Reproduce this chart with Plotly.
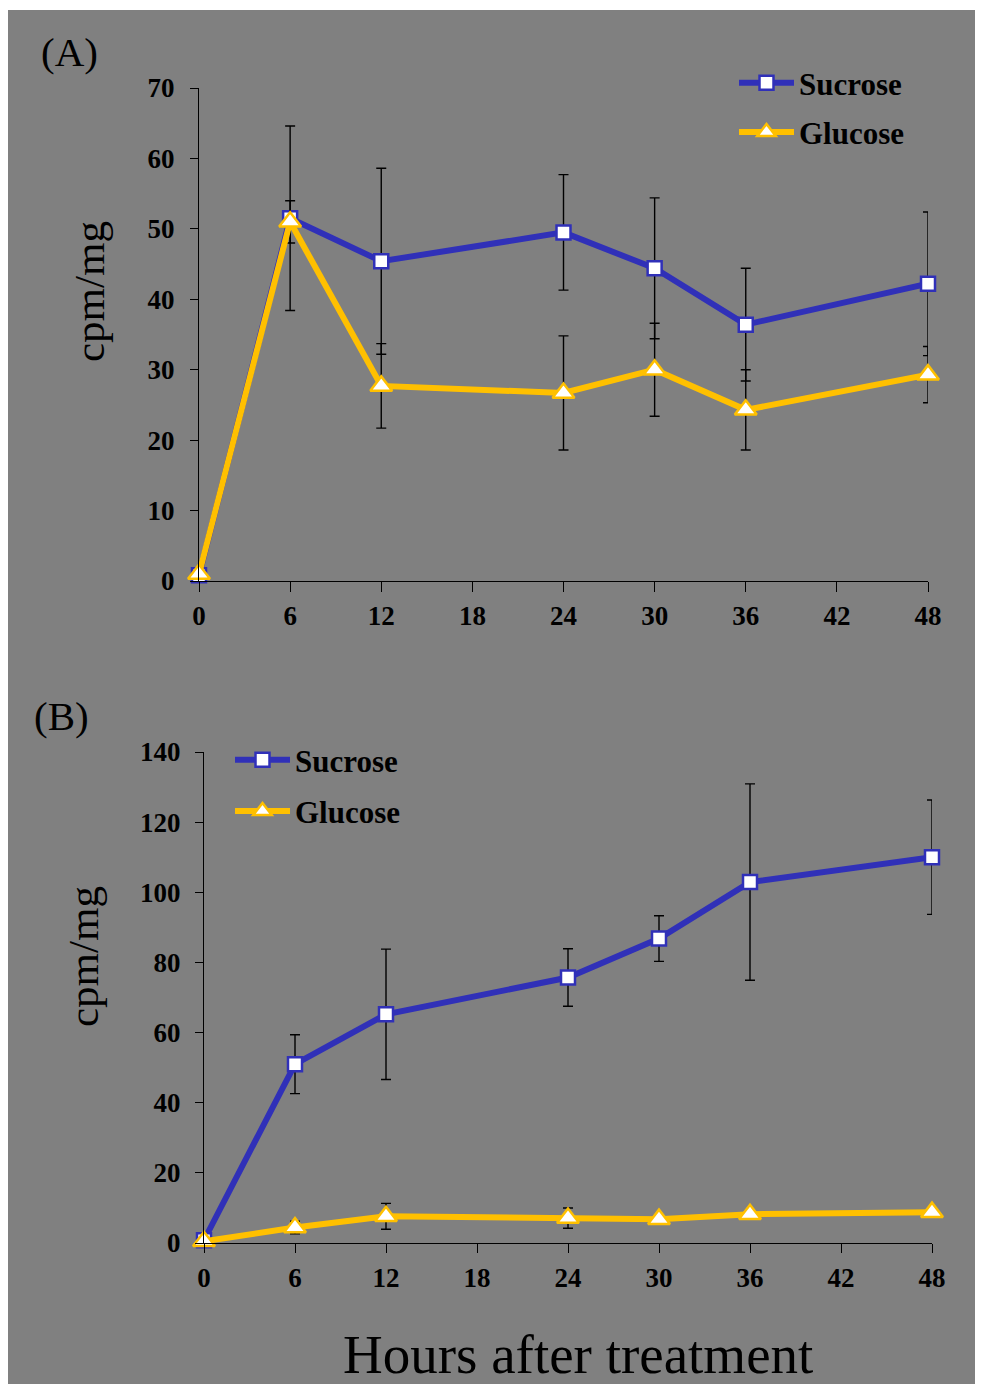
import plotly.graph_objects as go

# ---------------- data ----------------
hours = [0, 6, 12, 24, 30, 36, 48]
x_ticks = [0, 6, 12, 18, 24, 30, 36, 42, 48]

a_sucrose = [0.8, 51.5, 45.4, 49.5, 44.4, 36.4, 42.2]
a_sucrose_err = [0.0, 13.1, 13.2, 8.2, 10.0, 8.0, 10.2]
a_glucose = [1.0, 51.0, 27.7, 26.7, 30.0, 24.3, 29.3]
a_glucose_err = [0.0, 3.0, 6.0, 8.1, 6.6, 5.7, 4.0]

b_sucrose = [0.8, 51.0, 65.2, 75.7, 86.8, 102.9, 110.0]
b_sucrose_err = [0.0, 8.4, 18.6, 8.2, 6.5, 28.0, 16.3]
b_glucose = [0.5, 4.4, 7.6, 7.1, 6.8, 8.2, 8.8]
b_glucose_err = [0.0, 1.8, 3.7, 2.9, 1.0, 1.0, 1.0]

a_yticks = [0, 10, 20, 30, 40, 50, 60, 70]
b_yticks = [0, 20, 40, 60, 80, 100, 120, 140]

# ---------------- style ----------------
# the page body adds an 8px margin, so the figure is 16px smaller than the window
W, H = 967, 1376
OFF = 8  # reference pixel -> figure pixel offset
BG = "#808080"
BLUE = "#3030B8"
GOLD = "#FFC000"
SERIF = "Liberation Serif"


def px_x(p):
    return (p - OFF) / W


def px_y(p):
    return 1 - (p - OFF) / H


fig = go.Figure()


def add_series(xa, ya, y, err, name, color, symbol, size, legend, group):
    fig.add_trace(go.Scatter(
        x=hours, y=y, xaxis=xa, yaxis=ya, name=name, mode="lines+markers",
        line=dict(color=color, width=6),
        marker=dict(symbol=symbol, size=size, color="white",
                    line=dict(color=color, width=2.5)),
        error_y=dict(type="data", array=err, visible=True, color="black",
                     thickness=1.4, width=5),
        cliponaxis=False, legend=legend, legendgroup=group,
    ))


add_series("x", "y", a_sucrose, a_sucrose_err, "Sucrose", BLUE, "square", 14, "legend", "a1")
add_series("x", "y", a_glucose, a_glucose_err, "Glucose", GOLD, "triangle-up", 19, "legend", "a2")
add_series("x2", "y2", b_sucrose, b_sucrose_err, "Sucrose", BLUE, "square", 14, "legend2", "b1")
add_series("x2", "y2", b_glucose, b_glucose_err, "Glucose", GOLD, "triangle-up", 19, "legend2", "b2")

tickfont = dict(family=SERIF, size=27, color="black", weight="bold")
axis_common = dict(showgrid=False, zeroline=False, showline=True, linecolor="black",
                   linewidth=1.3, ticks="outside", tickcolor="black", tickwidth=1.3,
                   tickfont=tickfont, automargin=False)

legend_font = dict(family=SERIF, size=31, color="black", weight="bold")

fig.update_layout(
    width=W, height=H,
    margin=dict(l=0, r=0, t=0, b=0, pad=0, autoexpand=False),
    paper_bgcolor="white", plot_bgcolor="rgba(0,0,0,0)",
    xaxis=dict(domain=[px_x(199), px_x(928)], range=[0, 48], tickvals=x_ticks,
               ticklen=10, anchor="y", ticklabelstandoff=0, **axis_common),
    yaxis=dict(domain=[px_y(581), px_y(88)], range=[0, 70], tickvals=a_yticks,
               ticklen=8, anchor="x", ticklabelstandoff=10, **axis_common),
    xaxis2=dict(domain=[px_x(204), px_x(932)], range=[0, 48], tickvals=x_ticks,
                ticklen=9, anchor="y2", ticklabelstandoff=1, **axis_common),
    yaxis2=dict(domain=[px_y(1243), px_y(752)], range=[0, 140], tickvals=b_yticks,
                ticklen=8, anchor="x2", ticklabelstandoff=9, **axis_common),
    legend=dict(x=px_x(734), y=px_y(56), xanchor="left", yanchor="top",
                bgcolor="rgba(0,0,0,0)", itemwidth=55, tracegroupgap=6,
                font=legend_font),
    legend2=dict(x=px_x(230), y=px_y(733), xanchor="left", yanchor="top",
                 bgcolor="rgba(0,0,0,0)", itemwidth=55, tracegroupgap=8,
                 font=legend_font),
    showlegend=True,
)

# gray background panel
fig.add_shape(type="rect", xref="paper", yref="paper", x0=px_x(8), x1=1,
              y0=0, y1=px_y(10), fillcolor=BG, line=dict(width=0), layer="below")

ann_font = dict(family=SERIF, color="black")


def note(text, x, y, size, angle=0):
    fig.add_annotation(text=text, x=px_x(x), y=px_y(y), xref="paper", yref="paper",
                       xanchor="center", yanchor="middle", showarrow=False,
                       textangle=angle, font=dict(size=size, **ann_font))


note("(A)", 69, 52, 41)
note("(B)", 61.5, 716, 41)
note("cpm/mg", 89, 292, 43, -90)
note("cpm/mg", 84, 957, 43, -90)
note("Hours after treatment", 578, 1354, 55)

fig.write_html("out.html")
